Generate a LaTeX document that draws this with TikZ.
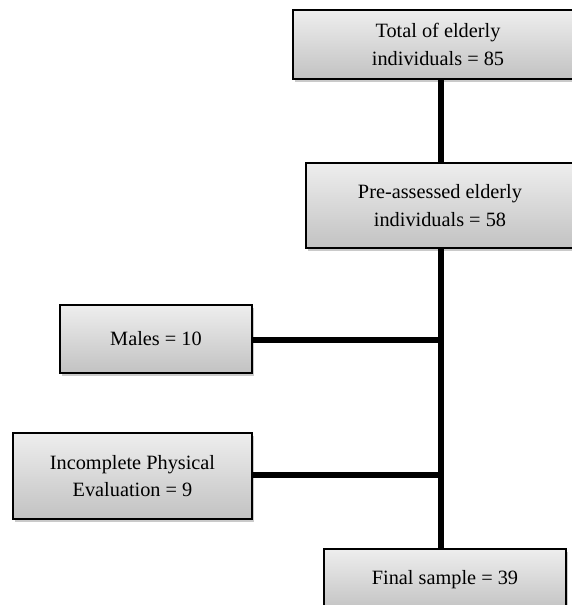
\documentclass[tikz,border=0pt]{standalone}
\usepackage{fontspec}
\setmainfont{Liberation Serif}
\usetikzlibrary{shadows}
\definecolor{boxtop}{RGB}{238,238,238}
\definecolor{boxbot}{RGB}{194,194,194}
\tikzset{
  flowbox/.style={draw=black, line width=1.4pt, rectangle, top color=boxtop, bottom color=boxbot,
    align=center, inner sep=0pt, font=\fontsize{20.3}{27.5}\selectfont,
    drop shadow={shadow xshift=2pt, shadow yshift=-3pt, opacity=0.35, fill=black!60}},
  link/.style={line width=5.5pt, black}
}
\begin{document}
\begin{tikzpicture}[x=1pt,y=1pt]
\useasboundingbox (0,0) rectangle (572,-605);
\clip (0,0) rectangle (572,-605);
\node[flowbox, minimum width=290pt, minimum height=69pt] (total) at (438,-44.5) {Total of elderly\\individuals = 85};
\node[flowbox, minimum width=268pt, minimum height=85pt] (pre) at (440,-205.5) {Pre-assessed elderly\\individuals = 58};
\node[flowbox, minimum width=192pt, minimum height=68pt] (males) at (156,-339) {Males = 10};
\node[flowbox, minimum width=239pt, minimum height=86pt] (incomp) at (132.5,-476) {Incomplete Physical\\Evaluation = 9};
\node[flowbox, minimum width=242pt, minimum height=62pt] (final) at (445,-580) {\raisebox{6pt}{Final sample = 39}};
\coordinate (jm) at (440,-340);
\coordinate (ji) at (440,-475);
\draw[link] (total.south -| 441,0) -- (pre.north -| 441,0);
\draw[link] (pre.south -| 441,0) -- (final.north -| 441,0);
\draw[link] (males.east |- jm) -- (jm);
\draw[link] (incomp.east |- ji) -- (ji);
\end{tikzpicture}
\end{document}
